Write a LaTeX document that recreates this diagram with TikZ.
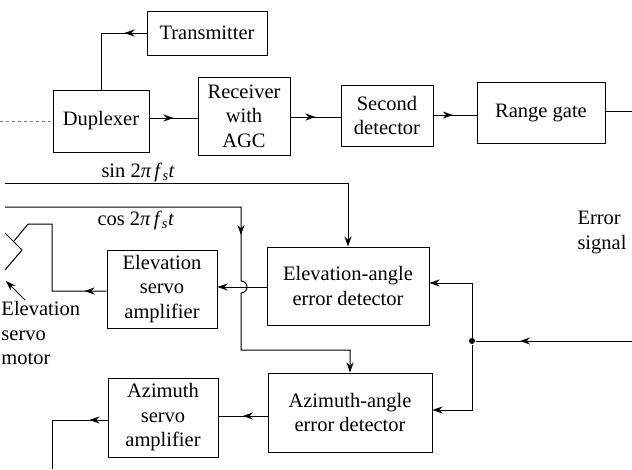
\documentclass[tikz,border=0pt]{standalone}
\usepackage{fontspec}
\setmainfont{Liberation Serif}
\usetikzlibrary{arrows.meta,decorations.markings}
\begin{document}
\begin{tikzpicture}[x=1pt,y=-1pt,line width=1pt,
  font=\fontsize{20.5}{24.5}\selectfont,
  box/.style={draw,inner sep=0pt,align=center},
  tip/.style={-{Stealth[length=10pt,width=7pt]}},
  midarrow/.style={postaction={decorate},decoration={markings,
     mark=at position #1 with {\arrow{Stealth[length=10pt,width=7pt]}}}}]
\useasboundingbox (0,0) rectangle (632,469);
\clip (0,0) rectangle (632,469);
% boxes
\node[box,minimum width=120pt,minimum height=44pt] (tx) at (207,33) {Transmitter};
\node[box,minimum width=96pt,minimum height=62pt] (dup) at (101,121) {Duplexer};
\node[box,minimum width=92pt,minimum height=78pt] (rx) at (244,116) {Receiver\\with\\AGC};
\node[box,minimum width=92pt,minimum height=61pt] (sd) at (387,115.5) {Second\\detector};
\node[box,minimum width=128pt,minimum height=61pt] (rg) at (541,112.5) {Range gate};
\node[box,minimum width=110pt,minimum height=78pt] (esa) at (162,289) {Elevation\\servo\\amplifier};
\node[box,minimum width=162pt,minimum height=78pt] (ea) at (348,286) {Elevation-angle\\error detector};
\node[box,minimum width=110pt,minimum height=79pt] (asa) at (163,417.5) {Azimuth\\servo\\amplifier};
\node[box,minimum width=164pt,minimum height=79pt] (aa) at (350,412.5) {Azimuth-angle\\error detector};
% free ends
\coordinate (dupL) at (0,121);
\coordinate (rgR) at (632,111);
\coordinate (sinL) at (5,183);
\coordinate (cosL) at (5,207);
\coordinate (err) at (632,341);
\coordinate (motor) at (14,241);
\coordinate (azout) at (52,469);
\node[circle,fill,inner sep=0pt,minimum size=6pt] (jn) at (472,341) {};
% labels
\node[anchor=base west,inner sep=0pt] (sinlab) at (101,177) {sin 2\textit{π\,f}\textsubscript{\textit{s}}\textit{t}};
\node[anchor=base west,inner sep=0pt] (coslab) at (97,225) {cos 2\textit{π\,f}\textsubscript{\textit{s}}\textit{t}};
\node[anchor=north west,inner sep=0pt,align=left] (errlab) at (577,211) {Error\\signal};
\node[anchor=north west,inner sep=0pt,align=left] (motlab) at (1,301) {Elevation\\servo\\motor};
% connectors
\draw[midarrow=22pt] (tx.west) -| (dup.north);
\draw[dashed,line width=0.6pt,gray] (dupL) -- (dup.west);
\draw[midarrow=0.5] (dup.east |- 0,118) -- (rx.west |- 0,118);
\draw[midarrow=0.5] (rx.east |- 0,117) -- (sd.west |- 0,117);
\draw[midarrow=0.45] (sd.east |- 0,115) -- (rg.west |- 0,115);
\draw (rg.east |- 0,111) -- (rgR);
\draw[tip] (sinL) -| (ea.north);
\draw[tip,midarrow=264pt] (cosL) -- (241,207) -- (241,281)
   arc[start angle=-90,end angle=90,radius=6] -- (241,350) -| (aa.north);
\draw[tip] (ea.west |- 0,287) -- (esa.east |- 0,287);
\draw[midarrow=22pt] (esa.west |- 0,291) -| (52,224) -- (28,224) -- (motor);
\draw (5,233) -- (22,250) -- (5,270);
\draw[tip] (25,300) -- (6,281);
\draw[midarrow=112pt] (err) -- (jn);
\draw[tip] (jn) |- (ea.east |- 0,283);
\draw[tip] (jn) |- (aa.east |- 0,410);
\draw[midarrow=0.5] (aa.west |- 0,416) -- (asa.east |- 0,416);
\draw[midarrow=18pt] (asa.west |- 0,420) -| (azout);
\end{tikzpicture}
\end{document}
